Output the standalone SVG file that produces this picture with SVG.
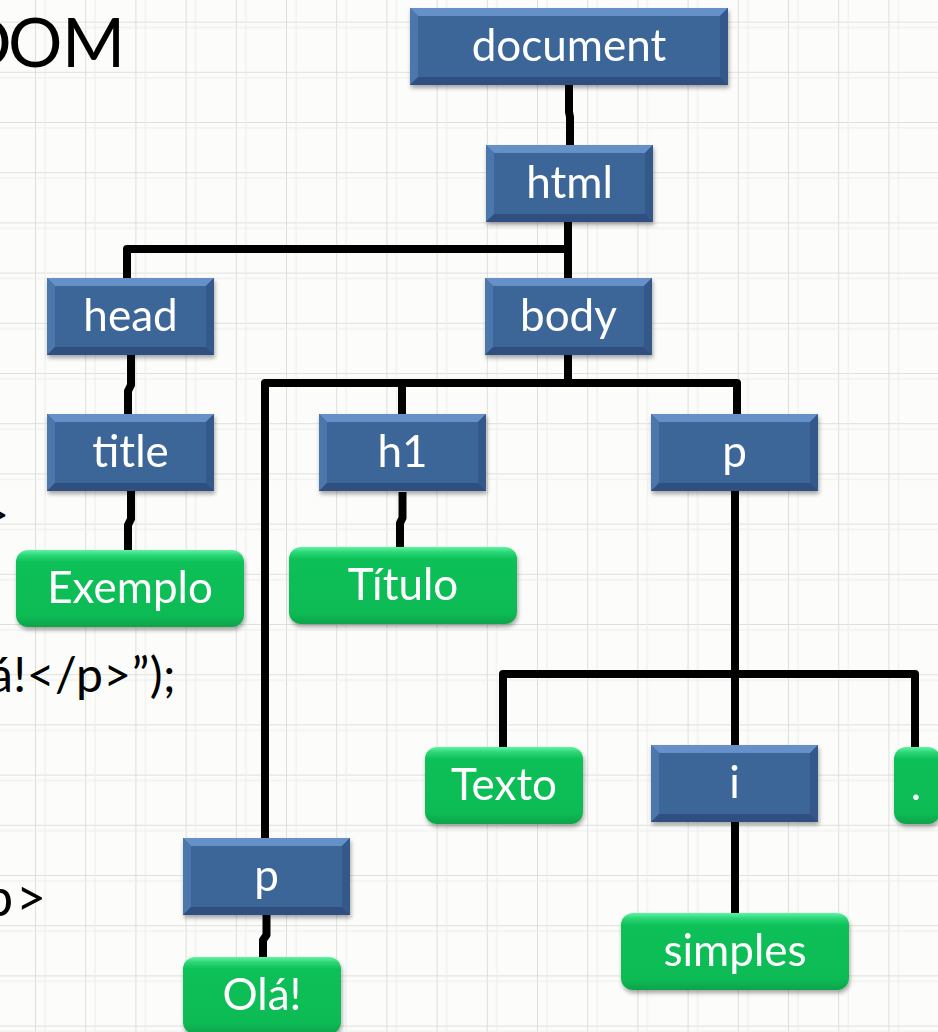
<svg xmlns="http://www.w3.org/2000/svg" xmlns:xlink="http://www.w3.org/1999/xlink" width="938" height="1032" viewBox="0 0 938 1032">
  <style>
    .lbl { font-family: Lato, "Open Sans", "Liberation Sans", sans-serif; font-size: 44px; fill: #ffffff; text-anchor: middle; }
    .code { font-family: Lato, "Open Sans", "Liberation Sans", sans-serif; fill: #000000; }
    .wire { fill: none; stroke: #000000; stroke-width: 8; stroke-linejoin: round; stroke-linecap: butt; }
  </style>
  <defs>
    <pattern id="grid" patternUnits="userSpaceOnUse" x="35" y="21.6" width="50.2" height="50.2">
      <path d="M0,0 H50.2 M0,0 V50.2" stroke="#d6d8d3" stroke-width="1.6" fill="none"/>
      <path d="M10,0 V50.2 M0,6 H50.2" stroke="#ecedea" stroke-width="1" fill="none"/>
    </pattern>
    <filter id="shadow" x="-10%" y="-15%" width="120%" height="140%">
      <feDropShadow dx="1" dy="3" stdDeviation="2" flood-color="#000000" flood-opacity="0.35"/>
    </filter>
    <linearGradient id="greenFill" x1="0" y1="0" x2="0" y2="1">
      <stop offset="0" stop-color="#5ff3a4"/>
      <stop offset="0.07" stop-color="#2ad676"/>
      <stop offset="0.16" stop-color="#0dc058"/>
      <stop offset="0.85" stop-color="#0bbb55"/>
      <stop offset="1" stop-color="#09a44a"/>
    </linearGradient>
    <!-- bevelled blue box, standard size -->
    <g id="blue-s">
      <rect width="167" height="77" fill="#3e6698"/>
      <polygon points="0,0 167,0 159,8 8,8" fill="#6590c8"/>
      <polygon points="0,0 8,8 8,69 0,77" fill="#4c77ad"/>
      <polygon points="167,0 167,77 159,69 159,8" fill="#35598a"/>
      <polygon points="0,77 8,69 159,69 167,77" fill="#2f5080"/>
    </g>
    <!-- bevelled blue box, wide -->
    <g id="blue-w">
      <rect width="318" height="77" fill="#3e6698"/>
      <polygon points="0,0 318,0 310,8 8,8" fill="#6590c8"/>
      <polygon points="0,0 8,8 8,69 0,77" fill="#4c77ad"/>
      <polygon points="318,0 318,77 310,69 310,8" fill="#35598a"/>
      <polygon points="0,77 8,69 310,69 318,77" fill="#2f5080"/>
    </g>
    <!-- rounded green text boxes -->
    <rect id="green-l" width="228" height="77" rx="12" fill="url(#greenFill)"/>
    <rect id="green-s" width="158" height="77" rx="12" fill="url(#greenFill)"/>
    <rect id="green-xs" width="46" height="77" rx="12" fill="url(#greenFill)"/>
  </defs>

  <!-- graph paper background -->
  <rect width="938" height="1032" fill="#fcfdfa"/>
  <rect width="938" height="1032" fill="url(#grid)"/>

  <!-- fragments of code text at the left edge -->
  <g id="side-text">
    <text class="code" x="-40 8 62" y="67" font-size="68">DOM</text>
    <text class="code" x="9" y="531" font-size="46" text-anchor="end">&gt;</text>
    <text class="code" x="-11" y="692" font-size="48" letter-spacing="0.5">á!&lt;/p&gt;”);</text>
    <text class="code" x="-16 16" y="916" font-size="52">p&gt;</text>
  </g>

  <!-- tree connectors -->
  <g id="connectors">
    <path class="wire" d="M569,84 V112 L570,117 V145"/>
    <path class="wire" d="M568,222 V278"/>
    <path class="wire" d="M127,278 V249 H568"/>
    <path class="wire" d="M131,355 V385 L128,391 V414"/>
    <path class="wire" d="M131,490 V519 L128,525 V550"/>
    <path class="wire" d="M568,355 V383"/>
    <path class="wire" d="M265,838 V383 H737 V414"/>
    <path class="wire" d="M402,383 V414"/>
    <path class="wire" d="M402.5,492 V518 L400,523 V547"/>
    <path class="wire" d="M735,491 V674"/>
    <path class="wire" d="M503,747 V674 H915 V747"/>
    <path class="wire" d="M735,674 V745"/>
    <path class="wire" d="M735,821 V913"/>
    <path class="wire" d="M266.5,914 V935 L263,940 V957"/>
  </g>

  <!-- element nodes -->
  <g id="node-document" filter="url(#shadow)">
    <use xlink:href="#blue-w" x="410" y="8"/>
    <text class="lbl" x="569" y="61">document</text>
  </g>
  <g id="node-html" filter="url(#shadow)">
    <use xlink:href="#blue-s" x="486" y="145"/>
    <text class="lbl" x="569.5" y="198">html</text>
  </g>
  <g id="node-head" filter="url(#shadow)">
    <use xlink:href="#blue-s" x="47" y="278"/>
    <text class="lbl" x="130.5" y="331">head</text>
  </g>
  <g id="node-body" filter="url(#shadow)">
    <use xlink:href="#blue-s" x="485" y="278"/>
    <text class="lbl" x="568.5" y="331">body</text>
  </g>
  <g id="node-title" filter="url(#shadow)">
    <use xlink:href="#blue-s" x="47" y="414"/>
    <text class="lbl" x="130.5" y="467">title</text>
  </g>
  <g id="node-h1" filter="url(#shadow)">
    <use xlink:href="#blue-s" x="319" y="414"/>
    <text class="lbl" x="402.5" y="467">h1</text>
  </g>
  <g id="node-p1" filter="url(#shadow)">
    <use xlink:href="#blue-s" x="651" y="414"/>
    <text class="lbl" x="734.5" y="467">p</text>
  </g>
  <g id="node-i" filter="url(#shadow)">
    <use xlink:href="#blue-s" x="651" y="745"/>
    <text class="lbl" x="734.5" y="798">i</text>
  </g>
  <g id="node-p2" filter="url(#shadow)">
    <use xlink:href="#blue-s" x="183" y="838"/>
    <text class="lbl" x="266.5" y="891">p</text>
  </g>

  <!-- text nodes -->
  <g id="text-exemplo" filter="url(#shadow)">
    <use xlink:href="#green-l" x="16" y="550"/>
    <text class="lbl" x="130" y="603">Exemplo</text>
  </g>
  <g id="text-titulo" filter="url(#shadow)">
    <use xlink:href="#green-l" x="289" y="547"/>
    <text class="lbl" x="403" y="600">Título</text>
  </g>
  <g id="text-texto" filter="url(#shadow)">
    <use xlink:href="#green-s" x="425" y="747"/>
    <text class="lbl" x="504" y="800">Texto</text>
  </g>
  <g id="text-dot" filter="url(#shadow)">
    <use xlink:href="#green-xs" x="894" y="747"/>
    <text class="lbl" x="916" y="800">.</text>
  </g>
  <g id="text-simples" filter="url(#shadow)">
    <use xlink:href="#green-l" x="621" y="913"/>
    <text class="lbl" x="735" y="966">simples</text>
  </g>
  <g id="text-ola" filter="url(#shadow)">
    <use xlink:href="#green-s" x="183" y="957"/>
    <text class="lbl" x="262" y="1010">Olá!</text>
  </g>
</svg>
